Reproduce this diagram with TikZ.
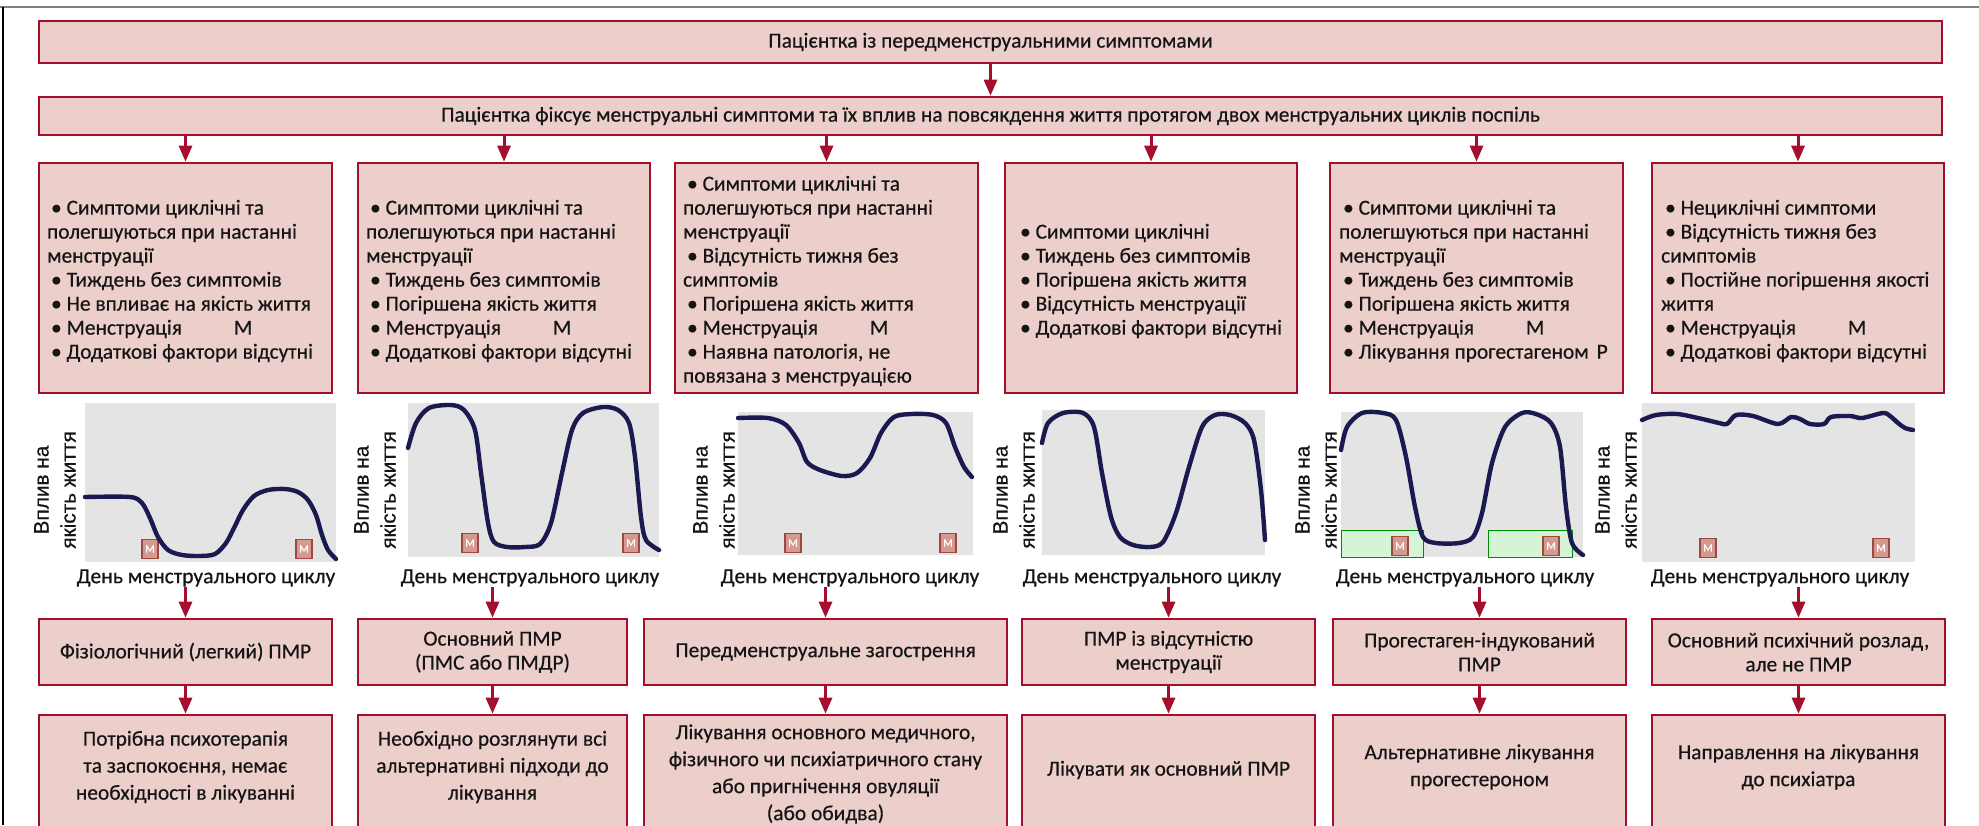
\documentclass[tikz,border=0pt]{standalone}
\usepackage{fontspec}
\setmainfont{Carlito}[FakeBold=0.5]
\newfontfamily\axfont{Liberation Sans}[FakeBold=0.6]
\usetikzlibrary{arrows.meta,fit}
\definecolor{boxfill}{HTML}{ECCFCB}
\definecolor{boxline}{HTML}{A50F2D}
\definecolor{curvec}{HTML}{1A1A50}
\definecolor{graphbg}{HTML}{E4E4E4}
\definecolor{txtc}{HTML}{151515}
\definecolor{mkfill}{HTML}{D49A90}
\definecolor{mkline}{HTML}{9C4A40}
\newcommand\mybul{\hspace*{2pt}•\space}
\begin{document}
\begin{tikzpicture}[x=0.5pt,y=-0.5pt,
  box/.style={draw=boxline, fill=boxfill, line width=1.3pt, inner sep=0pt},
  txt/.style={font=\fontsize{10.7}{12}\selectfont, text=txtc, inner sep=0pt},
  ctxt/.style={txt, align=center},
  btxt/.style={font=\fontsize{10.7}{13.5}\selectfont, text=txtc, inner sep=0pt, align=center},
  ltxt/.style={txt, align=left, anchor=west},
  arr/.style={draw=boxline, line width=1.5pt, -{Triangle[width=6.5pt,length=8pt]}},
  ylab/.style={rotate=90, align=center, font=\axfont\fontsize{10.4}{13.5}\selectfont, text=txtc, inner sep=0pt},
  dlab/.style={font=\fontsize{10.8}{12}\selectfont, text=txtc, inner sep=0pt},
  gbg/.style={fill=graphbg},
  crv/.style={draw=curvec, line width=2.2pt, line cap=round, line join=round},
  menbox/.style={draw=mkline, fill=mkfill, line width=0.7pt, minimum width=8pt, minimum height=9.5pt, inner sep=0pt, text=white, font=\fontsize{5.5}{5.5}\selectfont},
  prog/.style={draw=green!55!black, fill=green!20, fill opacity=0.6, line width=0.5pt}
]
\useasboundingbox (0,0) rectangle (1979,825);
\clip (0,0) rectangle (1979,825);
\fill[white] (0,0) rectangle (1979,825);
% frame
\draw[gray, line width=1pt] (0,7) -- (1979,7);
\draw[black, line width=0.7pt] (3,7) -- (3,825);

% top boxes
\node[box, fit={(39,21)(1942,63)}] (b1) {};
\node[ctxt] (b1t) at (b1.center) {Пацієнтка із передменструальними симптомами};
\node[box, fit={(39,97)(1942,135)}] (b2) {};
\node[ctxt] (b2t) at (b2.center) {Пацієнтка фіксує менструальні симптоми та їх вплив на повсякдення життя протягом двох менструальних циклів поспіль};
\draw[arr] (b1.south) -- (b2.north);

% criteria boxes
\node[box, fit={(39,163)(332,393)}] (r1) {};
\node[box, fit={(358,163)(650,393)}] (r2) {};
\node[box, fit={(675,163)(978,393)}] (r3) {};
\node[box, fit={(1005,163)(1297,393)}] (r4) {};
\node[box, fit={(1330,163)(1623,393)}] (r5) {};
\node[box, fit={(1652,163)(1944,393)}] (r6) {};
\foreach \r in {r1,r2,r3,r4,r5,r6} \draw[arr] (b2.south -| \r.north) -- (\r.north);

\node[ltxt] (t1) at ([xshift=4.5pt,yshift=-1.5pt]r1.west) {\mybul Симптоми циклічні та\\полегшуються при настанні\\менструації\\\mybul Тиждень без симптомів\\\mybul Не впливає на якість життя\\\mybul Менструація\hspace{26pt}M\\\mybul Додаткові фактори відсутні};
\node[ltxt] (t2) at ([xshift=4.5pt,yshift=-1.5pt]r2.west) {\mybul Симптоми циклічні та\\полегшуються при настанні\\менструації\\\mybul Тиждень без симптомів\\\mybul Погіршена якість життя\\\mybul Менструація\hspace{26pt}M\\\mybul Додаткові фактори відсутні};
\node[ltxt] (t3) at ([xshift=4.5pt,yshift=-1.5pt]r3.west) {\mybul Симптоми циклічні та\\полегшуються при настанні\\менструації\\\mybul Відсутність тижня без\\симптомів\\\mybul Погіршена якість життя\\\mybul Менструація\hspace{26pt}M\\\mybul Наявна патологія, не\\повязана з менструацією};
\node[ltxt] (t4) at ([xshift=6pt,yshift=-1.5pt]r4.west) {\mybul Симптоми циклічні\\\mybul Тиждень без симптомів\\\mybul Погіршена якість життя\\\mybul Відсутність менструації\\\mybul Додаткові фактори відсутні};
\node[ltxt] (t5) at ([xshift=5pt,yshift=-1.5pt]r5.west) {\mybul Симптоми циклічні та\\полегшуються при настанні\\менструації\\\mybul Тиждень без симптомів\\\mybul Погіршена якість життя\\\mybul Менструація\hspace{26pt}M\\\mybul Лікування прогестагеном\hspace{4pt}P};
\node[ltxt] (t6) at ([xshift=5pt,yshift=-1.5pt]r6.west) {\mybul Нециклічні симптоми\\\mybul Відсутність тижня без\\симптомів\\\mybul Постійне погіршення якості\\життя\\\mybul Менструація\hspace{26pt}M\\\mybul Додаткові фактори відсутні};

% graphs backgrounds
\fill[gbg] (85,403) rectangle (336,562);
\fill[gbg] (408,403) rectangle (659,557);
\fill[gbg] (738,412) rectangle (973,555);
\fill[gbg] (1042,410) rectangle (1265,555);
\fill[gbg] (1341,412) rectangle (1583,557);
\fill[gbg] (1642,403) rectangle (1915,562);

% progestagen periods
\path[prog] (1341,530) rectangle (1423,557);
\path[prog] (1488,530) rectangle (1572,557);

% menstruation markers
\node[menbox] (m1a) at (150,549) {M};
\node[menbox] (m1b) at (304,549) {M};
\node[menbox] (m2a) at (470,543) {M};
\node[menbox] (m2b) at (631,543) {M};
\node[menbox] (m3a) at (793,543) {M};
\node[menbox] (m3b) at (948,543) {M};
\node[menbox] (m5a) at (1400,546) {M};
\node[menbox] (m5b) at (1551,546) {M};
\node[menbox] (m6a) at (1708,548) {M};
\node[menbox] (m6b) at (1881,548) {M};

% curves
\draw[crv] plot[smooth, tension=0.5] coordinates {(85,497) (130,497) (142,503) (150,518) (158,537) (168,550) (182,555) (200,556) (215,554) (226,543) (234,528) (243,510) (254,496) (268,490) (285,489) (298,492) (308,500) (316,515) (322,535) (328,550) (336,559)};
\draw[crv] plot[smooth, tension=0.5] coordinates {(408,448) (416,423) (429,408) (451,405) (464,410) (475,430) (481,473) (488,523) (494,542) (507,547) (525,547) (540,544) (551,523) (562,473) (572,430) (583,413) (603,407) (618,410) (629,423) (635,457) (641,517) (646,540) (659,550)};
\draw[crv] plot[smooth, tension=0.5] coordinates {(738,418) (768,418) (786,425) (799,443) (807,462) (820,470) (842,476) (857,473) (870,458) (881,433) (894,417) (912,414) (933,415) (946,423) (955,447) (964,467) (972,477)};
\draw[crv] plot[smooth, tension=0.5] coordinates {(1042,443) (1048,423) (1063,413) (1083,413) (1094,427) (1102,473) (1111,517) (1120,537) (1133,545) (1150,547) (1163,542) (1176,513) (1189,467) (1202,427) (1215,415) (1230,415) (1245,423) (1254,440) (1261,490) (1265,540)};
\draw[crv] plot[smooth, tension=0.5] coordinates {(1341,450) (1347,427) (1362,413) (1383,413) (1396,420) (1406,457) (1415,507) (1423,537) (1436,543) (1459,543) (1473,537) (1482,513) (1492,463) (1505,427) (1522,413) (1536,414) (1551,423) (1560,447) (1566,507) (1572,543) (1583,555)};
\draw[crv] plot[smooth, tension=0.5] coordinates {(1642,420) (1656,415) (1677,414) (1698,418) (1719,423) (1727,424) (1736,415) (1753,416) (1778,424) (1791,417) (1800,419) (1810,424) (1824,424) (1831,417) (1850,416) (1862,418) (1883,413) (1890,416) (1898,423) (1905,428) (1913,430)};

% axis labels
\node[ylab] (y1) at (55,490) {Вплив на\\якість життя};
\node[ylab] (y2) at (375,490) {Вплив на\\якість життя};
\node[ylab] (y3) at (714,490) {Вплив на\\якість життя};
\node[ylab] (y4) at (1014,490) {Вплив на\\якість життя};
\node[ylab] (y5) at (1316,490) {Вплив на\\якість життя};
\node[ylab] (y6) at (1616,490) {Вплив на\\якість життя};
\node[dlab] (d1) at (206,578) {День менструального циклу};
\node[dlab] (d2) at (530,578) {День менструального циклу};
\node[dlab] (d3) at (850,578) {День менструального циклу};
\node[dlab] (d4) at (1152,578) {День менструального циклу};
\node[dlab] (d5) at (1465,578) {День менструального циклу};
\node[dlab] (d6) at (1780,578) {День менструального циклу};

% diagnosis boxes
\node[box, fit={(39,619)(332,685)}] (q1) {};
\node[box, fit={(358,619)(627,685)}] (q2) {};
\node[box, fit={(644,619)(1007,685)}] (q3) {};
\node[box, fit={(1022,619)(1315,685)}] (q4) {};
\node[box, fit={(1333,619)(1626,685)}] (q5) {};
\node[box, fit={(1652,619)(1945,685)}] (q6) {};
\node[ctxt] (q1t) at (q1.center) {Фізіологічний (легкий) ПМР};
\node[ctxt] (q2t) at (q2.center) {Основний ПМР\\(ПМС або ПМДР)};
\node[ctxt] (q3t) at (q3.center) {Передменструальне загострення};
\node[ctxt] (q4t) at (q4.center) {ПМР із відсутністю\\менструації};
\node[ctxt] (q5t) at (q5.center) {Прогестаген-індукований\\ПМР};
\node[ctxt] (q6t) at (q6.center) {Основний психічний розлад,\\але не ПМР};

% management boxes
\node[box, fit={(39,715)(332,845)}] (s1) {};
\node[box, fit={(358,715)(627,845)}] (s2) {};
\node[box, fit={(644,715)(1007,845)}] (s3) {};
\node[box, fit={(1022,715)(1315,845)}] (s4) {};
\node[box, fit={(1333,715)(1626,845)}] (s5) {};
\node[box, fit={(1652,715)(1945,845)}] (s6) {};
\node[btxt] (s1t) at ([yshift=6.5pt]s1.center) {Потрібна психотерапія\\та заспокоєння, немає\\необхідності в лікуванні};
\node[btxt] (s2t) at ([yshift=6.5pt]s2.center) {Необхідно розглянути всі\\альтернативні підходи до\\лікування};
\node[btxt] (s3t) at ([yshift=3pt]s3.center) {Лікування основного медичного,\\фізичного чи психіатричного стану\\або пригнічення овуляції\\(або обидва)};
\node[btxt] (s4t) at ([yshift=5pt]s4.center) {Лікувати як основний ПМР};
\node[btxt] (s5t) at ([yshift=6.5pt]s5.center) {Альтернативне лікування\\прогестероном};
\node[btxt] (s6t) at ([yshift=6.5pt]s6.center) {Направлення на лікування\\до психіатра};

\foreach \i in {1,...,6} {
  \draw[arr] (d\i.south -| q\i.north) -- (q\i.north);
  \draw[arr] (q\i.south) -- (s\i.north);
}
\end{tikzpicture}
\end{document}
